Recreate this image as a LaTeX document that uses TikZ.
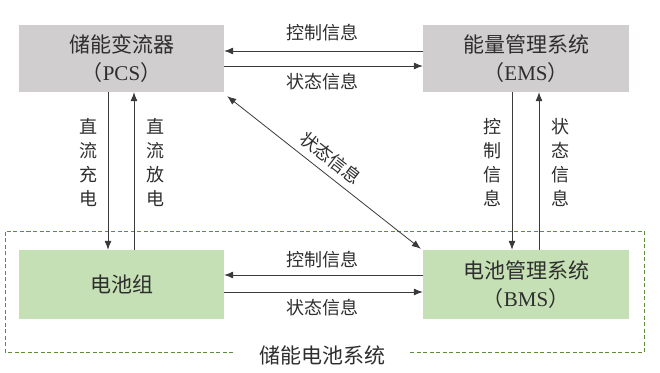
\documentclass[tikz,border=0pt]{standalone}
\usepackage{fontspec}
\setmainfont{Liberation Serif}
\newfontfamily\cjk{Noto Sans CJK SC}
\usetikzlibrary{arrows.meta,calc}
\definecolor{boxgray}{HTML}{D0CECE}
\definecolor{boxgreen}{HTML}{C5E0B4}
\definecolor{dashgreen}{HTML}{5E8C3A}
\definecolor{txt}{HTML}{2E2E2E}
\definecolor{ln}{HTML}{3A3A3A}
\begin{document}
\begin{tikzpicture}[x=1pt,y=-1pt,
  box/.style={draw=none,inner sep=0pt,minimum width=205pt,align=center,text=txt,
    font=\fontsize{21pt}{28pt}\selectfont},
  gbox/.style={box,fill=boxgray,minimum height=67pt},
  grbox/.style={box,fill=boxgreen,minimum height=69pt},
  arr/.style={draw=ln,line width=0.8pt,-{Latex[length=9pt,width=7pt]}},
  lbl/.style={inner sep=0pt,text=txt,font=\fontsize{18pt}{24pt}\selectfont\cjk},
  vlbl/.style={lbl,align=center}]
\useasboundingbox (0,0) rectangle (660,372);
% dashed system frame
\node[inner sep=0pt,text=txt,font=\fontsize{21pt}{24pt}\selectfont\cjk] (sys) at (322,355) {储能电池系统};
\coordinate (f1) at (233,352);
\coordinate (f2) at (5,352);
\coordinate (f3) at (5,231);
\coordinate (f4) at (644,231);
\coordinate (f5) at (644,352);
\coordinate (f6) at (409,352);
\draw[dashgreen,line width=1pt,dash pattern=on 4pt off 2.5pt] (f1) -- (f2) -- (f3) -- (f4) -- (f5) -- (f6);
% boxes
\node[gbox] (pcs) at (121.5,58.5) {{\cjk 储能变流器}\\{\cjk（}PCS{\cjk）}};
\node[gbox,minimum width=206pt] (ems) at (526,58.5) {{\cjk 能量管理系统}\\{\cjk（}EMS{\cjk）}};
\node[grbox,font=\fontsize{21pt}{28pt}\selectfont\cjk] (bat) at (121.5,284.5) {电池组};
\node[grbox,minimum width=206pt] (bms) at (526,284.5) {{\cjk 电池管理系统}\\{\cjk（}BMS{\cjk）}};
% top horizontal
\draw[arr] ([yshift=7.5pt]ems.west) -- ([yshift=7.5pt]pcs.east);
\draw[arr] ([yshift=-7.5pt]pcs.east) -- ([yshift=-7.5pt]ems.west);
\node[lbl] (t1) at (322,33) {控制信息};
\node[lbl] (t2) at (322,82) {状态信息};
% bottom horizontal
\draw[arr] ([yshift=9.5pt]bms.west) -- ([yshift=9.5pt]bat.east);
\draw[arr] ([yshift=-7.5pt]bat.east) -- ([yshift=-7.5pt]bms.west);
\node[lbl] (b1) at (322,260) {控制信息};
\node[lbl] (b2) at (322,308) {状态信息};
% left vertical
\draw[arr] ([xshift=-13.5pt]pcs.south) -- ([xshift=-13.5pt]bat.north);
\draw[arr] ([xshift=12.5pt]bat.north) -- ([xshift=12.5pt]pcs.south);
\node[vlbl] (l1) at (88,162) {直\\流\\充\\电};
\node[vlbl] (l2) at (155,162) {直\\流\\放\\电};
% right vertical
\draw[arr] ([xshift=-14pt]ems.south) -- ([xshift=-14pt]bms.north);
\draw[arr] ([xshift=13pt]bms.north) -- ([xshift=13pt]ems.south);
\node[vlbl] (r1) at (492,162) {控\\制\\信\\息};
\node[vlbl] (r2) at (560,162) {状\\态\\信\\息};
% diagonal
\draw[draw=ln,line width=0.8pt,{Latex[length=9pt,width=7pt]}-{Latex[length=9pt,width=7pt]}]
  ([shift={(3,4)}]pcs.south east) -- ([shift={(-2,-1)}]bms.north west);
\node[lbl,rotate=-38] (d1) at (331,158) {状态信息};
\end{tikzpicture}
\end{document}
